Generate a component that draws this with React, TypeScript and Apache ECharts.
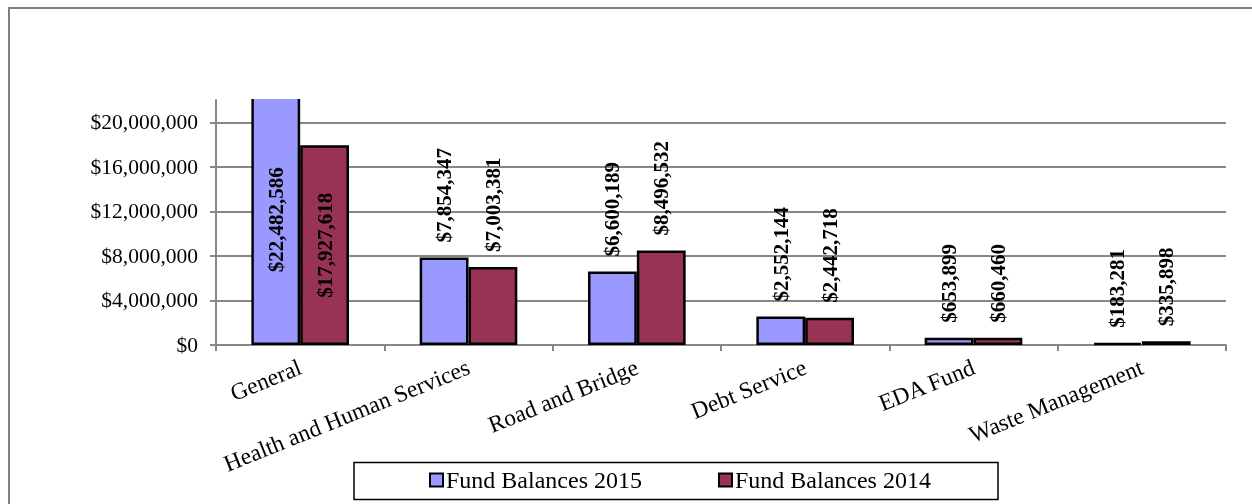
import React, { useEffect, useRef } from "react";
import * as echarts from "echarts";

const categories = [
  "General",
  "Health and Human Services",
  "Road and Bridge",
  "Debt Service",
  "EDA Fund",
  "Waste Management",
];
const fund2015 = [22482586, 7854347, 6600189, 2552144, 653899, 183281];
const fund2014 = [17927618, 7003381, 8496532, 2442718, 660460, 335898];
const seriesNames = ["Fund Balances 2015", "Fund Balances 2014"];
const yMin = 0;
const yMax = 22000000;
const yInterval = 4000000;

const FONT = "'Liberation Serif', 'Times New Roman', serif";
const money = (v: number) => "$" + Math.round(v).toLocaleString("en-US");

export default function App() {
  const ref = useRef<HTMLDivElement>(null);
  useEffect(() => {
    if (!ref.current) return;
    const chart = echarts.init(ref.current, null, { renderer: "svg" });
    const mkData = (arr: number[]) =>
      arr.map((v, i) =>
        i === 0
          ? { value: v, label: { position: "inside", distance: 0, align: "center" } }
          : v
      );
    const labelCfg = {
      show: true,
      position: "top",
      rotate: 90,
      align: "left",
      verticalAlign: "middle",
      distance: 15,
      fontFamily: FONT,
      fontSize: 21,
      fontWeight: "bold",
      color: "#000",
      formatter: (p: any) => money(p.value),
    };
    const gray = "#878787";
    chart.setOption({
      animation: false,
      textStyle: { fontFamily: FONT },
      grid: { left: 216, right: 26, top: 100, bottom: 159, containLabel: false },
      xAxis: {
        type: "category",
        data: categories,
        boundaryGap: true,
        axisLine: { show: true, lineStyle: { color: gray, width: 2 } },
        axisTick: { show: true, alignWithLabel: false, length: 6, lineStyle: { color: gray, width: 2 } },
        axisLabel: {
          interval: 0,
          rotate: 22,
          margin: 21,
          fontFamily: FONT,
          fontSize: 23.5,
          color: "#000",
        },
        splitLine: { show: false },
      },
      yAxis: {
        type: "value",
        min: yMin,
        max: yMax,
        interval: yInterval,
        axisLine: { show: true, lineStyle: { color: gray, width: 2 } },
        axisTick: { show: true, length: 6, lineStyle: { color: gray, width: 2 } },
        axisLabel: {
          showMaxLabel: false,
          margin: 18,
          fontFamily: FONT,
          fontSize: 21.5,
          color: "#000",
          formatter: (v: number) => money(v),
        },
        splitLine: {
          show: true,
          lineStyle: {
            color: [gray, gray, gray, gray, gray, gray, "rgba(0,0,0,0)"],
            width: 2,
          },
        },
      },
      legend: {
        left: 429,
        top: 468,
        padding: 0,
        itemWidth: 13,
        itemHeight: 13,
        itemGap: 76,
        icon: "rect",
        textStyle: { fontFamily: FONT, fontSize: 24, color: "#000", padding: [0, 0, 0, -2] },
        data: seriesNames,
      },
      graphic: [
        {
          type: "rect",
          z: 100,
          shape: { x: 230, y: 60, width: 140, height: 39 },
          style: { fill: "#fff" },
          silent: true,
        },
        {
          type: "line",
          z: 101,
          shape: { x1: 8, y1: 8, x2: 1252, y2: 8 },
          style: { stroke: "#808080", lineWidth: 2 },
          silent: true,
        },
        {
          type: "line",
          z: 101,
          shape: { x1: 9, y1: 7, x2: 9, y2: 504 },
          style: { stroke: "#808080", lineWidth: 2 },
          silent: true,
        },
        {
          type: "rect",
          z: 101,
          shape: { x: 354, y: 462.5, width: 644, height: 37 },
          style: { fill: "none", stroke: "#000", lineWidth: 1.5 },
          silent: true,
        },
      ],
      series: [
        {
          name: seriesNames[0],
          type: "bar",
          clip: false,
          data: mkData(fund2015),
          barGap: "0%",
          barCategoryGap: "42%",
          itemStyle: { color: "#9999FF", borderColor: "#000", borderWidth: 2.5 },
          label: labelCfg,
        },
        {
          name: seriesNames[1],
          type: "bar",
          clip: false,
          data: mkData(fund2014),
          barGap: "0%",
          barCategoryGap: "42%",
          itemStyle: { color: "#993355", borderColor: "#000", borderWidth: 2.5 },
          label: labelCfg,
        },
      ],
    });
    return () => chart.dispose();
  }, []);
  return (
    <div
      ref={ref}
      style={{ position: "fixed", left: 0, top: 0, width: 1252, height: 504 }}
    />
  );
}
